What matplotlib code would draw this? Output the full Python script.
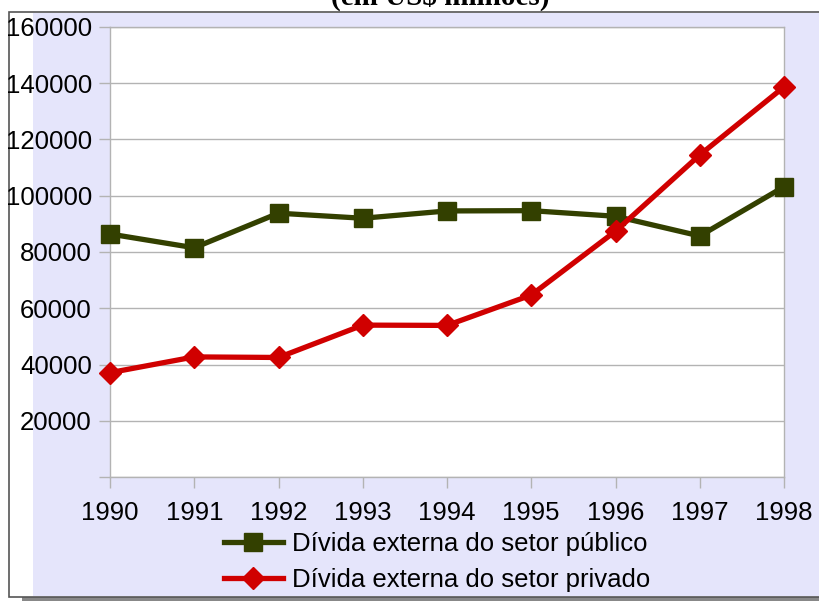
import matplotlib
matplotlib.use("Agg")
import matplotlib.pyplot as plt
from matplotlib.patches import Rectangle

years = [1990, 1991, 1992, 1993, 1994, 1995, 1996, 1997, 1998]
publico = [86400, 81500, 93800, 92000, 94600, 94700, 92700, 85700, 103200]
privado = [37100, 42700, 42500, 54000, 53900, 64700, 87400, 114500, 138700]
yticks = [0, 20000, 40000, 60000, 80000, 100000, 120000, 140000, 160000]
ytick_labels = ["", "20000", "40000", "60000", "80000", "100000", "120000", "140000", "160000"]
label_pub = "Dívida externa do setor público"
label_priv = "Dívida externa do setor privado"
title = "(em US$ milhões)"

plt.rcParams['font.family'] = ['Liberation Sans', 'DejaVu Sans']

W, H = 820, 601
fig = plt.figure(figsize=(W / 100, H / 100), dpi=100)
fig.patch.set_facecolor('white')

def px(x0, y0, x1, y1):
    return (x0 / W, 1 - y1 / H), (x1 - x0) / W, (y1 - y0) / H

xy, w, h = px(22, 14, 830, 601)
fig.patches.append(Rectangle(xy, w, h, transform=fig.transFigure, facecolor='#888888', edgecolor='none', zorder=-3))
xy, w, h = px(9, 12, 830, 597)
fig.patches.append(Rectangle(xy, w, h, transform=fig.transFigure, facecolor='white', edgecolor='#555555', linewidth=1.2, zorder=-2))
xy, w, h = px(33, 13, 830, 596)
fig.patches.append(Rectangle(xy, w, h, transform=fig.transFigure, facecolor='#E5E5FB', edgecolor='none', zorder=-1))

fig.text(440 / W, 1 - 5 / H, title, ha='center', va='baseline', fontsize=21,
         fontweight='bold', family=['Liberation Serif', 'DejaVu Serif'])

left, right, top, bottom = 110, 784, 27, 477
ax = fig.add_axes([left / W, 1 - bottom / H, (right - left) / W, (bottom - top) / H])
ax.set_facecolor('white')
ax.set_xlim(1990, 1998)
ax.set_ylim(0, 160000)

ax.plot(years, publico, color='#334000', linewidth=3.8, marker='s', markersize=13.5,
        label=label_pub, clip_on=False, zorder=3)
ax.plot(years, privado, color='#D00000', linewidth=3.8, marker='D', markersize=11,
        label=label_priv, clip_on=False, zorder=4)

ax.set_yticks(yticks)
ax.set_yticklabels(ytick_labels)
ax.set_xticks(years)
ax.set_xticklabels([str(y) for y in years])
ax.grid(axis='y', color='#b3b3b3', linewidth=1)
ax.set_axisbelow(True)
for s in ax.spines.values():
    s.set_color('#b3b3b3')
    s.set_linewidth(1)
ax.tick_params(axis='both', direction='out', length=8, width=1, color='#b3b3b3',
               labelsize=18.5, labelcolor='black')
ax.tick_params(axis='y', pad=5)
ax.tick_params(axis='x', pad=9)

handles, labels = ax.get_legend_handles_labels()
fig.legend(handles, labels, loc='center', bbox_to_anchor=(437 / W, 1 - 562 / H),
           frameon=False, fontsize=18.5, handlelength=2.3, handletextpad=0.35,
           labelspacing=0.45, borderpad=0)

fig.savefig('out.png', dpi=100)
